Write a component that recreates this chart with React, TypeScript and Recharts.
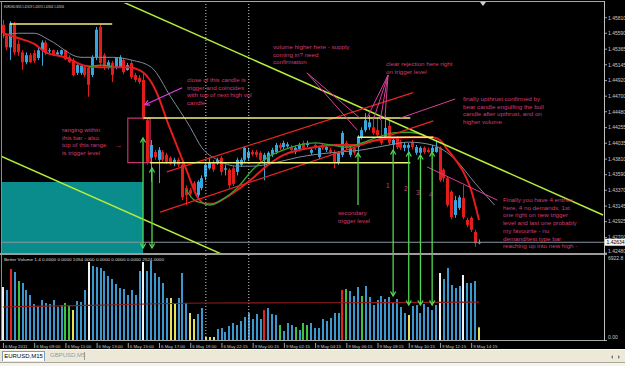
import React from 'react';
import { ComposedChart, Bar, Line, XAxis, YAxis, ReferenceLine, ReferenceArea } from 'recharts';

// EURUSD M15, one entry per bar, oldest first
const opens = [
  1.4571, 1.4555, 1.4539, 1.4571, 1.4544, 1.4532, 1.4518, 1.4528, 1.4531, 1.4524,
  1.4535, 1.4546, 1.4534, 1.4535, 1.4529, 1.4529, 1.4535, 1.4525, 1.4521, 1.4503,
  1.4503, 1.4511, 1.4510, 1.4500, 1.4525, 1.4568, 1.4528, 1.4511, 1.4517, 1.4511,
  1.4511, 1.4521, 1.4507, 1.4517, 1.4500, 1.4496, 1.4493, 1.4436, 1.4383, 1.4391,
  1.4380, 1.4391, 1.4387, 1.4383, 1.4375, 1.4380, 1.4373, 1.4340, 1.4337, 1.4347,
  1.4330, 1.4340, 1.4356, 1.4368, 1.4375, 1.4375, 1.4383, 1.4366, 1.4366, 1.4368,
  1.4363, 1.4373, 1.4380, 1.4383, 1.4391, 1.4391, 1.4390, 1.4380, 1.4377, 1.4387,
  1.4391, 1.4401, 1.4398, 1.4399, 1.4398, 1.4391, 1.4395, 1.4404, 1.4401, 1.4390,
  1.4401, 1.4384, 1.4401, 1.4394, 1.4394, 1.4391, 1.4377, 1.4387, 1.4404, 1.4387,
  1.4397, 1.4398, 1.4412, 1.4422, 1.4426, 1.4426, 1.4422, 1.4412, 1.4412, 1.4428,
  1.4401, 1.4411, 1.4405, 1.4397, 1.4397, 1.4405, 1.4390, 1.4390, 1.4397, 1.4394,
  1.4391, 1.4391, 1.4397, 1.4366, 1.4354, 1.4335, 1.4302, 1.4312, 1.4326, 1.4295,
  1.4298, 1.4278, 1.42619,
];
const highs = [
  1.4578, 1.4559, 1.4576, 1.4575, 1.4549, 1.4535, 1.4532, 1.4531, 1.4535, 1.4539,
  1.4549, 1.4549, 1.4538, 1.4536, 1.4535, 1.4536, 1.4536, 1.4528, 1.4524, 1.4515,
  1.4514, 1.4514, 1.4513, 1.4528, 1.4568, 1.4572, 1.4531, 1.4521, 1.4520, 1.4525,
  1.4528, 1.4524, 1.4517, 1.4521, 1.4503, 1.4500, 1.4503, 1.4439, 1.4408, 1.4394,
  1.4398, 1.4394, 1.4390, 1.4385, 1.4383, 1.4383, 1.4375, 1.4344, 1.4340, 1.4350,
  1.4351, 1.4358, 1.4375, 1.4383, 1.4380, 1.4383, 1.4385, 1.4373, 1.4368, 1.4371,
  1.4383, 1.4383, 1.4399, 1.4397, 1.4394, 1.4394, 1.4392, 1.4390, 1.4392, 1.4397,
  1.4404, 1.4404, 1.4407, 1.4405, 1.4401, 1.4399, 1.4404, 1.4407, 1.4407, 1.4397,
  1.4404, 1.4399, 1.4404, 1.4401, 1.4397, 1.4394, 1.4392, 1.4421, 1.4407, 1.4399,
  1.4399, 1.4415, 1.4426, 1.4446, 1.4443, 1.4441, 1.4439, 1.4436, 1.4443, 1.4436,
  1.4411, 1.4414, 1.4408, 1.4405, 1.4404, 1.4408, 1.4401, 1.4399, 1.4399, 1.4397,
  1.4401, 1.4408, 1.4399, 1.4368, 1.4357, 1.4337, 1.4329, 1.4330, 1.4344, 1.4298,
  1.4300, 1.4281, 1.42674,
];
const lows = [
  1.4552, 1.4535, 1.4521, 1.4528, 1.4527, 1.4507, 1.4515, 1.4517, 1.4517, 1.4521,
  1.4513, 1.4528, 1.4531, 1.4527, 1.4527, 1.4527, 1.4521, 1.4517, 1.4498, 1.4500,
  1.4500, 1.4497, 1.4469, 1.4497, 1.4521, 1.4511, 1.4507, 1.4508, 1.4490, 1.4508,
  1.4510, 1.4501, 1.4506, 1.4494, 1.4490, 1.4487, 1.4437, 1.4373, 1.4349, 1.4380,
  1.4347, 1.4377, 1.4374, 1.4373, 1.4371, 1.4370, 1.4323, 1.4316, 1.4327, 1.4335,
  1.4326, 1.4337, 1.4351, 1.4366, 1.4363, 1.4373, 1.4358, 1.4358, 1.4340, 1.4343,
  1.4358, 1.4370, 1.4377, 1.4380, 1.4385, 1.4384, 1.4377, 1.4351, 1.4374, 1.4384,
  1.4388, 1.4394, 1.4395, 1.4397, 1.4391, 1.4388, 1.4392, 1.4394, 1.4398, 1.4387,
  1.4394, 1.4381, 1.4394, 1.4391, 1.4388, 1.4368, 1.4373, 1.4384, 1.4394, 1.4384,
  1.4387, 1.4390, 1.4409, 1.4419, 1.4422, 1.4415, 1.4412, 1.4401, 1.4409, 1.4401,
  1.4394, 1.4395, 1.4394, 1.4392, 1.4391, 1.4395, 1.4387, 1.4387, 1.4388, 1.4390,
  1.4390, 1.4390, 1.4349, 1.4349, 1.4313, 1.4296, 1.4298, 1.4309, 1.4296, 1.4285,
  1.4278, 1.4257, 1.42604,
];
const closes = [
  1.4559, 1.4539, 1.4573, 1.4532, 1.4532, 1.4518, 1.4528, 1.4518, 1.4520, 1.4535,
  1.4546, 1.4531, 1.4535, 1.4528, 1.4532, 1.4535, 1.4522, 1.4518, 1.4500, 1.4514,
  1.4513, 1.4500, 1.4486, 1.4525, 1.4564, 1.4517, 1.4511, 1.4518, 1.4500, 1.4524,
  1.4525, 1.4504, 1.4514, 1.4497, 1.4493, 1.4490, 1.4439, 1.4377, 1.4401, 1.4384,
  1.4394, 1.4380, 1.4377, 1.4375, 1.4380, 1.4373, 1.4327, 1.4330, 1.4332, 1.4337,
  1.4349, 1.4354, 1.4373, 1.4377, 1.4366, 1.4380, 1.4363, 1.4368, 1.4344, 1.4346,
  1.4380, 1.4380, 1.4397, 1.4391, 1.4388, 1.4387, 1.4380, 1.4387, 1.4390, 1.4394,
  1.4401, 1.4397, 1.4404, 1.4402, 1.4394, 1.4397, 1.4401, 1.4397, 1.4404, 1.4394,
  1.4397, 1.4397, 1.4397, 1.4398, 1.4391, 1.4377, 1.4390, 1.4418, 1.4397, 1.4397,
  1.4390, 1.4412, 1.4422, 1.4436, 1.4433, 1.4418, 1.4415, 1.4404, 1.4425, 1.4404,
  1.4408, 1.4398, 1.4397, 1.4401, 1.4401, 1.4398, 1.4398, 1.4397, 1.4391, 1.4391,
  1.4397, 1.4398, 1.4351, 1.4354, 1.4316, 1.4299, 1.4323, 1.4327, 1.4299, 1.4288,
  1.4281, 1.4262, 1.42634,
];
const volumes = [
  4399, 4150, 5893, 5644, 4897, 4731, 4150, 3735, 2988, 2822,
  3320, 3071, 2988, 3320, 2739, 2905, 3071, 2822, 2490, 3237,
  3154, 4150, 6474, 6142, 6059, 5976, 5727, 5312, 5063, 4648,
  4316, 4233, 3735, 4150, 3735, 5727, 6474, 5727, 6557, 5561,
  5229, 4731, 3486, 3486, 2988, 3486, 5561, 3071, 2241, 1743,
  2158, 2656, 249, 249, 249, 913, 996, 664, 1162, 1411,
  1245, 1577, 1909, 2241, 1743, 2158, 1743, 2490, 2656, 2158,
  2075, 1245, 747, 1411, 1245, 1079, 830, 1411, 1245, 1411,
  996, 996, 1743, 1577, 1826, 2241, 2241, 4150, 4233, 4067,
  3652, 4399, 3652, 4482, 3569, 2905, 3320, 3652, 3403, 3569,
  3071, 3403, 2739, 2241, 2075, 2822, 2905, 2241, 2988, 2739,
  2490, 2905, 5561, 5063, 5976, 4565, 4316, 4482, 5395, 4731,
  4731, 4897, 1054,
];
// Better Volume bar type: n normal, R climax up, W climax down, G churn, Y low volume
const volumeKinds = [
  'WnRnGnnnnn', 'nnnnnnGGYn', 'nnWnnnnnnn', 'nnnnnnWnnn', 'nnnYYnnnYY', 'nnYYYnnnnn', 'nnnnnnnRnn',
  'nGnnnGnGGn', 'nnnnnnnRGn', 'nnGnnnnnnn', 'nnnnYnnnnn', 'nnWnnnnnWn', 'nnY',
].join('');

// moving averages, [bar, value] where the curve was read
const redMaPoints = [
  [0, 1.4559], [4, 1.4552], [8, 1.4544], [11, 1.4532], [16, 1.4525], [21, 1.4513], [25, 1.4511],
  [32, 1.4511], [35, 1.4507], [38, 1.4490], [40, 1.4467], [42, 1.4436], [44, 1.4408], [47, 1.4366],
  [50, 1.4326], [52, 1.4318], [54, 1.4318], [56, 1.4323], [60, 1.4337], [64, 1.4354], [68, 1.4373],
  [72, 1.4387], [76, 1.4394], [80, 1.4398], [85, 1.4401], [90, 1.4401], [95, 1.4407], [100, 1.4411],
  [105, 1.4412], [110, 1.4412], [112, 1.4408], [114, 1.4394], [116, 1.4380], [118, 1.4363],
  [120, 1.4337], [122, 1.4295],
];
const greenMaPoints1 = [[22, 1.4511], [25, 1.4514], [28, 1.4512]];
const greenMaPoints2 = [
  [47, 1.4337], [49, 1.4323], [51, 1.4319], [53, 1.4316], [56, 1.4323], [60, 1.4340], [64, 1.4366],
  [68, 1.4384], [72, 1.4394], [76, 1.4401], [80, 1.4404], [84, 1.4401], [88, 1.4398], [92, 1.4404],
  [96, 1.4412], [100, 1.4418], [104, 1.4419], [108, 1.4415],
];
const grayMaPoints = [
  [0, 1.4556], [4, 1.4559], [8, 1.4559], [12, 1.4549], [20, 1.4525], [28, 1.4525], [33, 1.4521],
  [38, 1.4511], [43, 1.4469], [48, 1.4426], [51, 1.4397], [55, 1.4380], [60, 1.4371], [64, 1.4371],
  [69, 1.4375], [76, 1.4384], [84, 1.4390], [92, 1.4394], [99, 1.4401], [104, 1.4405], [110, 1.4401],
  [116, 1.4380], [121, 1.4347], [126, 1.4316],
];
const volumeMaPoints = [[0, 2740], [25, 2900], [52, 3070], [100, 3110], [122, 3150]];

const priceTicks = [
  1.4581, 1.4559, 1.45365, 1.45145, 1.4492, 1.447, 1.4448, 1.44255,
  1.44035, 1.4381, 1.4359, 1.4337, 1.43145, 1.42925, 1.427, 1.4248,
];
const lastPrice = 1.42634;
const quote = ['1.42619', '1.42674', '1.42604', '1.42634'];
const volumeTicks = [0, 6922.8];
const betterVolumeBuffers = [0, 0, 1054, 0, 0, 0, 2524];

const dateTicks = [0, 8, 16, 24, 32, 40, 48, 56, 64, 72, 80, 88, 96, 104, 112, 120];
const dateLabels = [
  '6 May 2011', '6 May 09:00', '6 May 11:00', '6 May 13:00', '6 May 15:00', '6 May 17:00',
  '6 May 19:00', '6 May 22:15', '9 May 00:15', '9 May 02:15', '9 May 04:15', '9 May 06:15',
  '9 May 08:15', '9 May 10:15', '9 May 12:15', '9 May 14:15',
];

// drawn objects on the chart, in bar / price units
const greenTrends = [[28, 1.4610, 153.8, 1.4302], [-0.5, 1.43852, 60, 1.4237]];
const channelLines = [[42, 1.4363, 105.1, 1.4475], [40.3, 1.4306, 110.3, 1.4435]];
const levelLines = [[1.8, 28, 1.4572], [36, 104.4, 1.4439], [37.7, 104.4, 1.4376], [90.8, 110.3, 1.4412]];
const pointerLines = [
  [77.9, 1.4503, 91.5, 1.4439], [77.9, 1.4503, 90.8, 1.4422],
  [98.7, 1.45, 93.3, 1.4439], [98.7, 1.45, 94.9, 1.4436], [98.7, 1.45, 96.7, 1.4436], [98.7, 1.45, 97.9, 1.4439],
  [115.9, 1.4466, 101.8, 1.4439], [108.7, 1.437, 126.7, 1.4323],
];
const pointerArrow = [45.9, 1.4482, 36.4, 1.4458];
const rangeBox = [32, 37.7, 1.4376, 1.4439];
const tealZone = [-0.5, 35.9, 1.42468, 1.43487];
const rangeArrows = [[35.9, 1.44109, 1.42553], [38.2, 1.43685, 1.42553]];
const secondaryArrow = [91, 1.43897, 1.43161];
const entryBars = [100, 104, 107, 110];
const entryLows = [1.43939, 1.43911, 1.43868, 1.43911];
const entryVolumeTips = [3652, 2905, 2905, 2905];
const separatorBars = [52, 63];

const noteClose = ['close of this candle is', 'trigger and coincides', 'with top of next high vol', 'candle'];
const noteVolume = ['volume higher here - supply', 'coming in? need', 'confirmation'];
const noteRejection = ['clear rejection here right', 'on trigger level'];
const noteUpthrust = ['finally upthrust confirmed by', 'bear candle engulfing the bull', 'candle after upthrust, and on', 'higher volume'];
const noteRange = ['ranging within', 'this bar - also', 'top of this range', 'is trigger level'];
const noteSecondary = ['secondary', 'trigger level'];
const noteEntries = [
  'Finally you have 4 entries', 'here, 4 no demands, 1st', 'one right on new trigger',
  'level and last one probably', 'my favourite - no', 'demand/test type bar', 'reaching up into new high -',
];
const entryNumbers = ['1', '2', '3', '4'];

const X_DOMAIN: [number, number] = [-0.5, 154.3];
const PRICE_DOMAIN: [number, number] = [1.42468, 1.46018];
const VOL_DOMAIN: [number, number] = [0, 7055];

const BULL = '#38a6de';
const BEAR = '#e31c1c';
const NOTE = '#d23c74';
const POINTER = '#d8409a';
const ARROW = '#52d852';
const AXIS_TEXT = '#c8c8c8';
const FONT = '"Liberation Sans", Arial, sans-serif';
const VOLUME_COLORS: Record<string, string> = { n: '#3a98cf', R: '#e22424', W: '#f2f2f2', G: '#3cc43c', Y: '#e6df58' };

const pick = (points: number[][], i: number) => {
  const p = points.find(q => q[0] === i);
  return p ? p[1] : null;
};

const rows = Array.from({ length: 127 }, (_, i) => {
  const has = i < opens.length;
  return {
    i,
    range: has ? [lows[i], highs[i]] : null,
    open: has ? opens[i] : null,
    high: has ? highs[i] : null,
    low: has ? lows[i] : null,
    close: has ? closes[i] : null,
    volume: has ? volumes[i] : null,
    kind: has ? volumeKinds[i] : 'n',
    maRed: pick(redMaPoints, i),
    maGreen1: pick(greenMaPoints1, i),
    maGreen2: pick(greenMaPoints2, i),
    maGray: pick(grayMaPoints, i),
    volMa: pick(volumeMaPoints, i),
  };
});

const Candle = (props: any) => {
  const { x, y, width, height, payload } = props;
  if (!payload || payload.high == null || x == null || isNaN(y)) return <g />;
  const top = Math.min(y, y + height);
  const h = Math.abs(height);
  const { open, close, high, low } = payload;
  const span = high - low || 1e-9;
  const py = (v: number) => top + ((high - v) / span) * h;
  const color = close >= open ? BULL : BEAR;
  const cx = Math.round(x + width / 2) + 0.5;
  const bTop = py(Math.max(open, close));
  const bBot = py(Math.min(open, close));
  return (
    <g>
      <line x1={cx} x2={cx} y1={top} y2={top + h} stroke={color} strokeWidth={1} />
      <rect x={cx - 1.5} y={bTop} width={3} height={Math.max(bBot - bTop, 1)} fill={color} />
    </g>
  );
};

const VolumeBar = (props: any) => {
  const { x, y, width, height, payload } = props;
  if (!payload || payload.volume == null || x == null || isNaN(y)) return <g />;
  const cx = Math.round(x + width / 2);
  return <rect x={cx - 1} y={y} width={2} height={Math.max(height, 0.5)} fill={VOLUME_COLORS[payload.kind]} />;
};

// line with open chevron heads, used by ReferenceLine segments
const arrowShape = (color: string, headStart: boolean, headEnd: boolean, width = 1.3) => (p: any) => {
  const { x1, y1, x2, y2, clipPath } = p;
  const chevron = (tx: number, ty: number, fx: number, fy: number) => {
    const a = Math.atan2(ty - fy, tx - fx);
    const L = 4.5, S = 2.6;
    const bx = tx - L * Math.cos(a), by = ty - L * Math.sin(a);
    const nx = -Math.sin(a) * S, ny = Math.cos(a) * S;
    return `${bx + nx},${by + ny} ${tx},${ty} ${bx - nx},${by - ny}`;
  };
  return (
    <g clipPath={clipPath}>
      <line x1={x1} y1={y1} x2={x2} y2={y2} stroke={color} strokeWidth={width} />
      {headStart && <polyline points={chevron(x1, y1, x2, y2)} fill="none" stroke={color} strokeWidth={width} />}
      {headEnd && <polyline points={chevron(x2, y2, x1, y1)} fill="none" stroke={color} strokeWidth={width} />}
    </g>
  );
};

const PriceTick = (props: any) => {
  const { x, y, payload } = props;
  const v = payload.value;
  if (v === lastPrice) {
    return (
      <g>
        <rect x={x - 1} y={y - 3.5} width={21} height={7} fill="#f4f4f4" />
        <text x={x + 1.5} y={y + 1.8} fontSize={5} fontFamily={FONT} fill="#000">{v.toFixed(5)}</text>
      </g>
    );
  }
  // the bottom label sits on the pane border, nudge it up a little
  const dy = v === priceTicks[priceTicks.length - 1] ? 0.3 : 1.8;
  return (
    <g>
      <line x1={x} x2={x + 2} y1={y} y2={y} stroke={AXIS_TEXT} strokeWidth={0.8} />
      <text x={x + 3} y={y + dy} fontSize={5} fontFamily={FONT} fill={AXIS_TEXT}>{v.toFixed(5)}</text>
    </g>
  );
};

const VolumeTick = (props: any) => {
  const { x, y, payload } = props;
  const label = payload.value === 0 ? '0.00' : payload.value.toFixed(1);
  return (
    <text x={x + 3} y={payload.value === 0 ? y - 1 : y + 3.6} fontSize={5} fontFamily={FONT} fill={AXIS_TEXT}>
      {label}
    </text>
  );
};

const DateTick = (props: any) => {
  const { x, y, payload } = props;
  const k = dateTicks.indexOf(payload.value);
  return (
    <g>
      <line x1={x + 0.5} x2={x + 0.5} y1={y + 3} y2={y + 8} stroke={AXIS_TEXT} strokeWidth={0.8} />
      <text x={x + 2} y={y + 8} fontSize={4.4} fontFamily={FONT} fill={AXIS_TEXT}>{dateLabels[k]}</text>
    </g>
  );
};

const Note = ({ x, y, lines, size = 6.2, gap = 7.7 }: { x: number; y: number; lines: string[]; size?: number; gap?: number }) => (
  <text x={x} y={y} fill={NOTE} fontSize={size} fontFamily={FONT}>
    {lines.map((l, k) => (
      <tspan key={k} x={x} dy={k ? gap : 0}>{l}</tspan>
    ))}
  </text>
);

const seg = (x1: number, y1: number, x2: number, y2: number) => [{ x: x1, y: y1 }, { x: x2, y: y2 }];

export default function App() {
  return (
    <div style={{ position: 'fixed', left: 0, top: 0, width: 625, height: 366, background: '#000', overflow: 'hidden' }}>
      {/* price pane */}
      <div style={{ position: 'absolute', left: 0, top: 0 }}>
        <ComposedChart width={625} height={256} data={rows} margin={{ top: 3, right: 0, bottom: 2, left: 1 }}>
          <XAxis dataKey="i" type="number" domain={X_DOMAIN} allowDataOverflow hide ticks={dateTicks} />
          <YAxis
            orientation="right"
            width={20}
            domain={PRICE_DOMAIN}
            allowDataOverflow
            ticks={[...priceTicks, lastPrice]}
            interval={0}
            axisLine={false}
            tickLine={false}
            tickSize={0}
            tickMargin={0}
            tick={<PriceTick />}
          />
          <ReferenceArea
            x1={tealZone[0]} x2={tealZone[1]} y1={tealZone[2]} y2={tealZone[3]}
            fill="#0a8c8c" fillOpacity={1} stroke="none" ifOverflow="hidden"
          />
          {separatorBars.map(b => (
            <ReferenceLine key={b} x={b} stroke="#d0d0d0" strokeDasharray="1 2" strokeWidth={1} />
          ))}
          <ReferenceLine y={lastPrice} stroke="#8a96a0" strokeWidth={1} />
          <ReferenceArea
            x1={rangeBox[0]} x2={rangeBox[1]} y1={rangeBox[2]} y2={rangeBox[3]}
            fill="none" stroke="#c8336e" strokeWidth={1.2} ifOverflow="visible"
          />

          <Bar dataKey="range" barSize={3} shape={<Candle />} isAnimationActive={false} />

          <Line dataKey="maGray" type="monotone" connectNulls dot={false} stroke="#7f8c99" strokeWidth={1} isAnimationActive={false} />
          <Line dataKey="maRed" type="monotone" connectNulls dot={false} stroke="#e81c1c" strokeWidth={2} isAnimationActive={false} />
          <Line dataKey="maGreen1" type="monotone" connectNulls dot={false} stroke="#2fa52f" strokeWidth={1.3} isAnimationActive={false} />
          <Line dataKey="maGreen2" type="monotone" connectNulls dot={false} stroke="#2fa52f" strokeWidth={1.3} isAnimationActive={false} />

          {greenTrends.map((t, k) => (
            <ReferenceLine key={`g${k}`} segment={seg(t[0], t[1], t[2], t[3])} stroke="#b4ee3a" strokeWidth={1.5} ifOverflow="hidden" />
          ))}
          {channelLines.map((t, k) => (
            <ReferenceLine key={`c${k}`} segment={seg(t[0], t[1], t[2], t[3])} stroke="#e82424" strokeWidth={1.2} ifOverflow="hidden" />
          ))}
          {levelLines.map((t, k) => (
            <ReferenceLine key={`l${k}`} segment={seg(t[0], t[2], t[1], t[2])} stroke="#f0f07a" strokeWidth={1.5} ifOverflow="hidden" />
          ))}
          {pointerLines.map((t, k) => (
            <ReferenceLine key={`p${k}`} segment={seg(t[0], t[1], t[2], t[3])} stroke={POINTER} strokeWidth={1} ifOverflow="hidden" />
          ))}
          <ReferenceLine
            segment={seg(pointerArrow[0], pointerArrow[1], pointerArrow[2], pointerArrow[3])}
            ifOverflow="hidden"
            shape={arrowShape('#e23ee2', false, true, 1.2)}
          />
          {rangeArrows.map((a, k) => (
            <ReferenceLine key={`r${k}`} segment={seg(a[0], a[1], a[0], a[2])} ifOverflow="hidden" shape={arrowShape(ARROW, true, true)} />
          ))}
          <ReferenceLine
            segment={seg(secondaryArrow[0], secondaryArrow[1], secondaryArrow[0], secondaryArrow[2])}
            ifOverflow="hidden"
            shape={arrowShape(ARROW, true, false)}
          />
          {entryBars.map((b, k) => (
            <ReferenceLine
              key={`e${k}`}
              segment={seg(b, entryLows[k], b, PRICE_DOMAIN[0])}
              ifOverflow="hidden"
              shape={arrowShape(ARROW, true, false)}
            />
          ))}
        </ComposedChart>
      </div>

      {/* Better Volume pane */}
      <div style={{ position: 'absolute', left: 0, top: 254 }}>
        <ComposedChart width={625} height={100} data={rows} margin={{ top: 1, right: 0, bottom: 2, left: 1 }}>
          <XAxis
            dataKey="i"
            type="number"
            domain={X_DOMAIN}
            allowDataOverflow
            ticks={dateTicks}
            interval={0}
            height={12}
            axisLine={false}
            tickLine={false}
            tickSize={0}
            tickMargin={0}
            tick={<DateTick />}
          />
          <YAxis
            orientation="right"
            width={20}
            domain={VOL_DOMAIN}
            allowDataOverflow
            ticks={volumeTicks}
            interval={0}
            axisLine={false}
            tickLine={false}
            tickSize={0}
            tickMargin={0}
            tick={<VolumeTick />}
          />
          {separatorBars.map(b => (
            <ReferenceLine key={b} x={b} stroke="#d0d0d0" strokeDasharray="1 2" strokeWidth={1} />
          ))}
          <Bar dataKey="volume" barSize={2} shape={<VolumeBar />} isAnimationActive={false} />
          <Line dataKey="volMa" type="monotone" connectNulls dot={false} stroke="#8e1c1c" strokeWidth={1.2} isAnimationActive={false} />
          {entryBars.map((b, k) => (
            <ReferenceLine
              key={`v${k}`}
              segment={seg(b, VOL_DOMAIN[1], b, entryVolumeTips[k])}
              ifOverflow="hidden"
              shape={arrowShape(ARROW, false, true)}
            />
          ))}
        </ComposedChart>
      </div>

      {/* window frame */}
      <div style={{ position: 'absolute', left: 0, top: 1, width: 605, height: 1, background: '#a8a8a8' }} />
      <div style={{ position: 'absolute', left: 1, top: 1, width: 1, height: 340, background: '#8c8c8c' }} />
      <div style={{ position: 'absolute', left: 0, top: 253, width: 607, height: 2, background: '#9c9c9c' }} />
      <div style={{ position: 'absolute', left: 0, top: 340, width: 607, height: 1, background: '#a8a8a8' }} />
      <div style={{ position: 'absolute', left: 604, top: 1, width: 1, height: 340, background: '#c0c0c0' }} />

      {/* terminal tab strip */}
      <div style={{ position: 'absolute', left: 0, top: 349, width: 625, height: 17, background: '#ece9d8', borderTop: '1px solid #f8f8f8' }} />
      <div style={{ position: 'absolute', left: 0, top: 362, width: 625, height: 4, background: '#f4f3ee', borderTop: '1px solid #aca899' }} />
      <div
        style={{
          position: 'absolute', left: 2, top: 351, width: 41, height: 9, background: '#fff',
          border: '1px solid #7f9db9', borderBottom: 'none', fontFamily: FONT, fontSize: 6, lineHeight: '9px',
          textAlign: 'center', color: '#000',
        }}
      >
        EURUSD,M15
      </div>
      <div style={{ position: 'absolute', left: 50, top: 351, fontFamily: FONT, fontSize: 6, lineHeight: '9px', color: '#9a9a9a' }}>
        GBPUSD,M5
      </div>
      <div style={{ position: 'absolute', left: 84, top: 352, width: 1, height: 8, background: '#9a9a9a' }} />

      {/* overlay: headers and the trader's notes */}
      <svg width={625} height={366} style={{ position: 'absolute', left: 0, top: 0, pointerEvents: 'none' }}>
        <text x={4} y={8} fontSize={4.2} fontFamily={FONT} fill="#dcdcdc" textLength={60} lengthAdjust="spacingAndGlyphs">
          {`EURUSD,M15  ${quote.join(' ')}`}
        </text>
        <text x={4} y={261} fontSize={4.2} fontFamily={FONT} fill="#dcdcdc" textLength={160} lengthAdjust="spacingAndGlyphs">
          {`Better Volume 1.4 ${betterVolumeBuffers.map(b => b.toFixed(4)).join(' ')}`}
        </text>
        <polygon points="480,2 486,2 483,6" fill="#d0d0d0" />
        <polygon points="613,355 613,359 611,357" fill="#777" />
        <polygon points="618,355 618,359 620,357" fill="#777" />

        <Note x={187} y={82} lines={noteClose} />
        <Note x={273} y={49} lines={noteVolume} />
        <Note x={386} y={66} lines={noteRejection} />
        <Note x={463} y={101} lines={noteUpthrust} />
        <Note x={62} y={132} lines={noteRange} />
        <text x={114} y={148} fill={NOTE} fontSize={8} fontFamily={FONT}>→</text>
        <Note x={338} y={215} lines={noteSecondary} />
        <Note x={503} y={202} lines={noteEntries} />
        {entryNumbers.map((n, k) => (
          <text key={n} x={[386, 404, 416, 429][k]} y={[188, 191, 195, 197][k]} fill={NOTE} fontSize={6.5} fontFamily={FONT}>
            {n}
          </text>
        ))}
      </svg>
    </div>
  );
}
